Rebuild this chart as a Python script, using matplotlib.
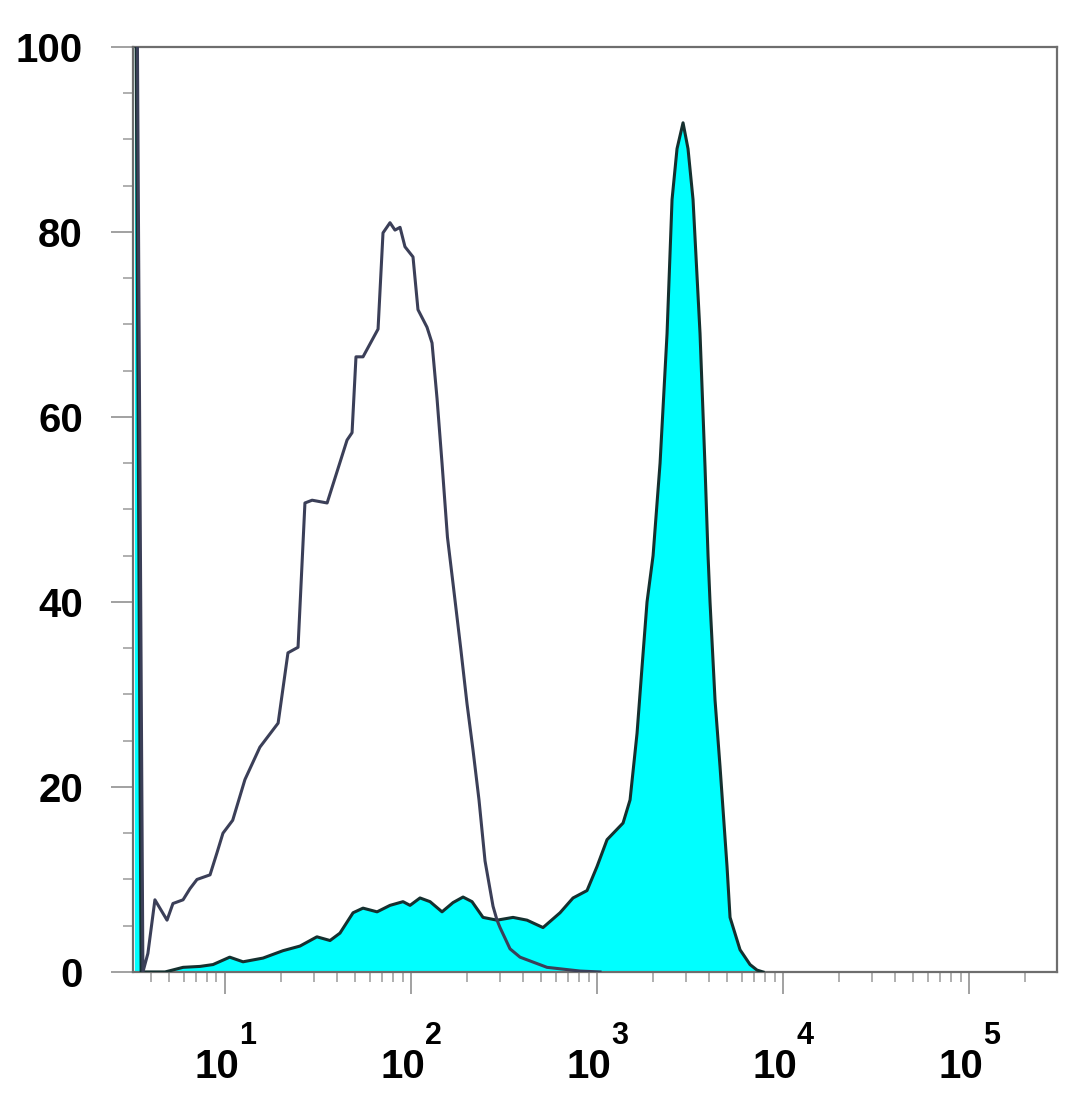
import matplotlib
matplotlib.use("Agg")
import matplotlib.pyplot as plt
from matplotlib.ticker import FixedLocator, MultipleLocator, LogLocator, NullFormatter
import numpy as np

plt.rcParams['font.family'] = ['Liberation Sans', 'DejaVu Sans']

# isotype control (open histogram)
ctrl_x = [3.24, 3.36, 3.62, 3.85, 4.20, 4.88, 5.25, 5.95, 6.48, 7.07, 8.31, 9.06,
          9.75, 11.0, 12.8, 15.4, 19.3, 21.8, 24.7, 26.9, 29.4, 35.4, 45.3, 48.2,
          50.6, 55.2, 66.5, 70.7, 77.1, 82.0, 87.3, 92.8, 102.5, 109.0, 121.9,
          129.7, 138.0, 146.8, 157.0, 168.2, 185.0, 200.0, 215.4, 232.0, 250.0,
          276.0, 290.0, 301.0, 340.6, 385.5, 538.5, 810.3, 1038]
ctrl_y = [110, 110, 0, 2.0, 7.8, 5.6, 7.4, 7.8, 9.0, 10.0, 10.5, 12.9,
          15.0, 16.4, 20.8, 24.3, 26.9, 34.5, 35.1, 50.7, 51.0, 50.7, 57.5, 58.3,
          66.5, 66.5, 69.5, 79.9, 81.0, 80.2, 80.5, 78.4, 77.3, 71.6, 69.7,
          68.0, 62.0, 55.0, 47.0, 42.0, 35.0, 29.0, 24.0, 18.6, 12.0,
          7.1, 5.6, 4.8, 2.5, 1.6, 0.5, 0.1, 0]

# stained sample (filled histogram)
stain_x = [3.26, 3.31, 3.54, 4.76, 5.95, 7.34, 8.62, 10.6, 12.5, 16.0, 20.5,
           25.3, 31.2, 36.7, 41.5, 48.8, 55.2, 65.7, 77.1, 90.6, 98.8, 111.8,
           126.6, 146.8, 168.2, 190.4, 212.8, 243.8, 290.0, 353.5, 420.5, 512.5,
           632.6, 743.0, 883.5, 1000, 1132, 1380, 1505, 1641, 1746, 1857, 2001,
           2182, 2379, 2531, 2692, 2900, 3084, 3282, 3579, 3807, 3952, 4050,
           4309, 4584, 4999, 5189, 5873, 6646, 7248, 7807]
stain_y = [110, 110, 0, 0, 0.5, 0.6, 0.8, 1.6, 1.1, 1.5, 2.3,
           2.8, 3.8, 3.4, 4.2, 6.4, 6.9, 6.5, 7.2, 7.6, 7.2, 8.0,
           7.6, 6.5, 7.5, 8.1, 7.6, 5.9, 5.6, 5.9, 5.6, 4.8,
           6.4, 8.0, 8.8, 11.4, 14.3, 16.1, 18.6, 25.8, 33.0, 40.0, 45.0,
           55.0, 69.0, 83.5, 89.0, 91.8, 89.0, 83.5, 69.0, 54.6, 45.0, 40.0,
           29.4, 22.2, 11.4, 5.9, 2.4, 0.8, 0.2, 0]

y_ticks = [0, 20, 40, 60, 80, 100]
x_ticks = [1e1, 1e2, 1e3, 1e4, 1e5]
x_exps = ['1', '2', '3', '4', '5']

fig = plt.figure(figsize=(10.8, 11.02), dpi=100)
ax = fig.add_axes([0.1231, 0.118, 0.8556, 0.8394])

ax.fill_between(stain_x, stain_y, 0, color='#00ffff', lw=0, zorder=2)
ax.plot(stain_x, stain_y, color='#15302f', lw=2.2, zorder=3)
ax.plot(ctrl_x, ctrl_y, color='#3b3f58', lw=2.2, zorder=4)

ax.set_xscale('log')
ax.set_xlim(3.2, 2.97e5)
ax.set_ylim(0, 100)

ax.yaxis.set_major_locator(FixedLocator(y_ticks))
ax.yaxis.set_minor_locator(MultipleLocator(5))
ax.set_yticklabels([str(v) for v in y_ticks])
ax.xaxis.set_major_locator(FixedLocator(x_ticks))
ax.xaxis.set_minor_locator(LogLocator(base=10, subs=np.arange(2, 10)))
ax.xaxis.set_major_formatter(NullFormatter())
ax.xaxis.set_minor_formatter(NullFormatter())

# decade labels: "10" with a large raised exponent
for t, e in zip(x_ticks, x_exps):
    ax.annotate('10', xy=(t, 0), xycoords=('data', 'axes fraction'),
                xytext=(10, -76), textcoords='offset points',
                ha='right', va='baseline', fontsize=29, fontweight='bold')
    ax.annotate(e, xy=(t, 0), xycoords=('data', 'axes fraction'),
                xytext=(10, -52), textcoords='offset points',
                ha='left', va='baseline', fontsize=22, fontweight='bold')

for sp in ax.spines.values():
    sp.set_color('#6e6e6e')
    sp.set_linewidth(1.6)

ax.tick_params(which='major', length=16, width=1.3, color='#9a9a9a',
               labelsize=29, pad=20)
ax.tick_params(which='minor', length=7, width=1.1, color='#9a9a9a')
for lab in ax.get_yticklabels():
    lab.set_fontweight('bold')

fig.savefig('out.png', dpi=100, facecolor='white')
